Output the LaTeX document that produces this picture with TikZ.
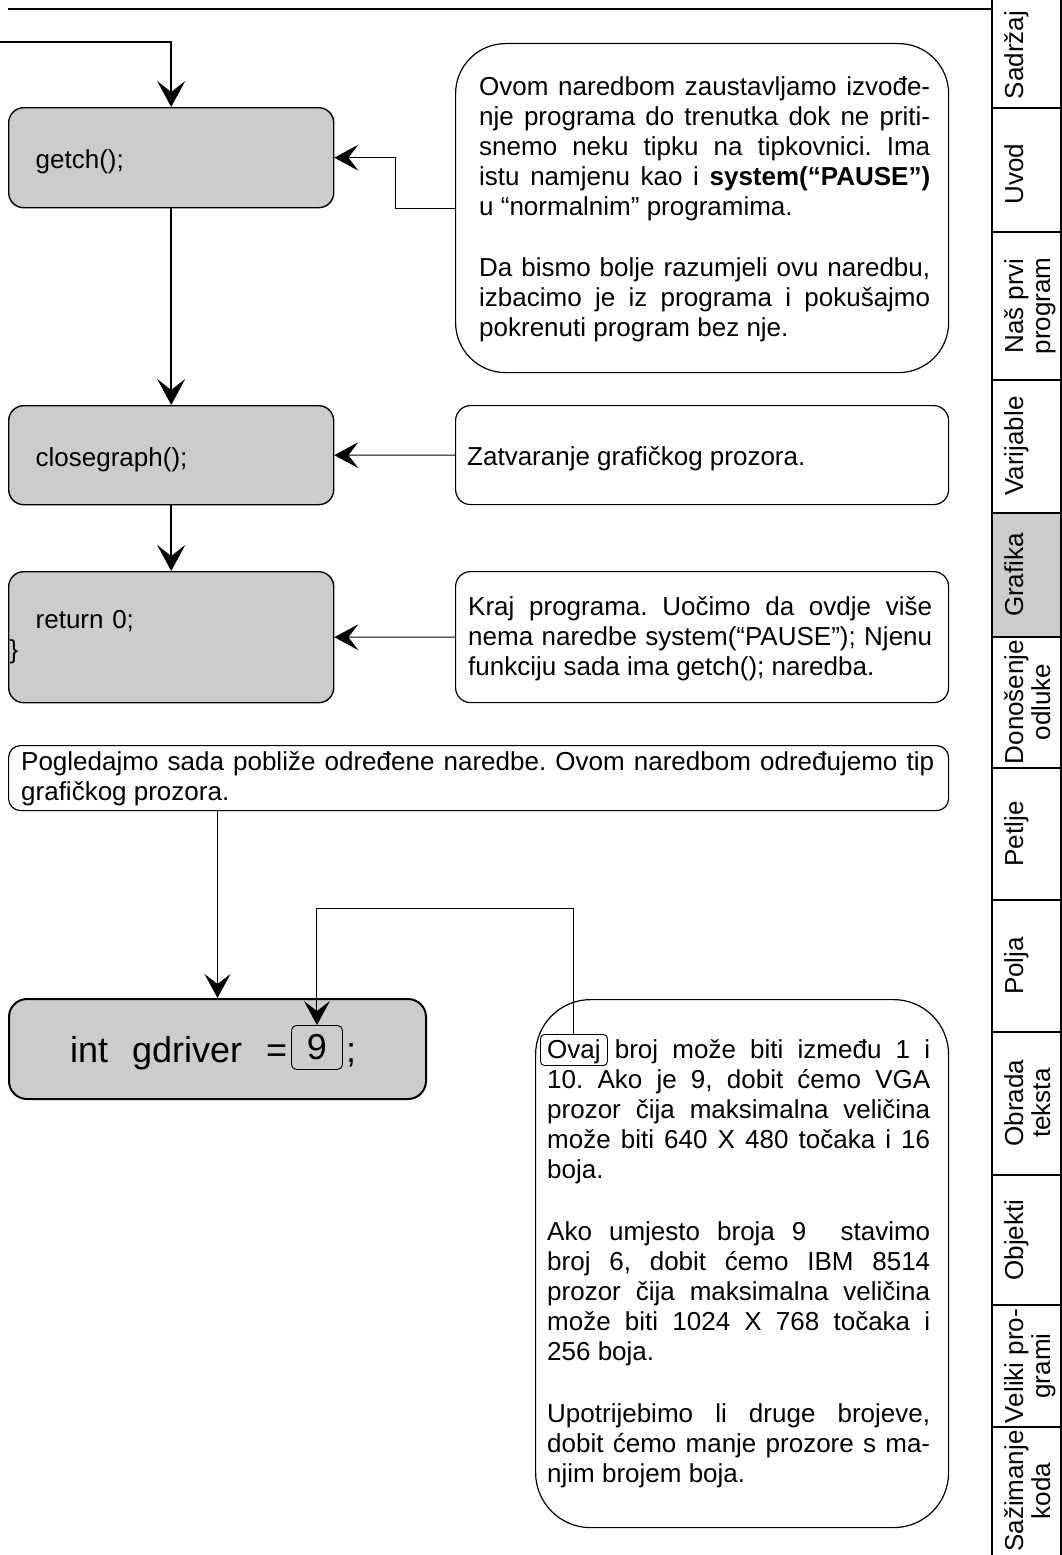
\documentclass[tikz,border=0pt]{standalone}
\usepackage{fontspec}
\setmainfont{Liberation Sans}
\usetikzlibrary{arrows.meta}
\definecolor{boxgray}{RGB}{204,204,204}
\definecolor{tabgray}{RGB}{204,204,204}
% a justified line of fixed width, and a line at its natural width
\newcommand\jline[2]{\hbox to #1{\strut\spaceskip=.278em plus 1fil\relax #2}}
\newcommand\pline[1]{\hbox{\strut #1}}
\begin{document}
\frenchspacing
\begin{tikzpicture}[x=1pt,y=-1pt,
  body/.style={font=\fontsize{26}{30}\selectfont},
  codebox/.style={draw=black, fill=boxgray, line width=1.4pt, rounded corners=15pt,
    anchor=north west, inner ysep=0pt, inner xsep=27pt, text width=271pt, align=left, body},
  oneline/.style={text height=22pt, text depth=0pt},
  bubble/.style={draw=black, line width=1.2pt, fill=white, anchor=north west, inner sep=0pt},
  textblock/.style={anchor=north west, inner sep=0pt, body},
  frame/.style={draw=black, line width=0.9pt, rounded corners=4pt, anchor=north west, inner sep=0pt},
  flow/.style={line width=2pt, -{Stealth[length=26pt,width=28pt,inset=11pt]}},
  link/.style={line width=1pt, -{Stealth[length=24pt,width=26pt,inset=10pt]}},
  tab/.style={rotate=90, anchor=north, inner sep=0pt, align=center, font=\fontsize{26}{27}\selectfont},
  rule/.style={line width=1.2pt}
]
\useasboundingbox (0,0) rectangle (1062,1555);

% header rule
\draw[rule] (8,9) -- (992,9);

% chapter tabs
\fill[tabgray] (992,513) rectangle (1061,637);
\draw[rule] (992,0) -- (992,1555) (1061,0) -- (1061,1555);
\foreach \yy in {108,232,380,513,637,768,900,1032,1175,1305,1427}
  \draw[rule] (992,\yy) -- (1061,\yy);
\node[tab] (tab1) at (1004,55) {Sadržaj};
\node[tab] (tab2) at (1004,174) {Uvod};
\node[tab] (tab3) at (1004,306) {Naš prvi\\program};
\node[tab] (tab4) at (1004,446) {Varijable};
\node[tab] (tab5) at (1004,575) {Grafika};
\node[tab] (tab6) at (1004,702) {Donošenje\\odluke};
\node[tab] (tab7) at (1004,834) {Petlje};
\node[tab] (tab8) at (1004,966) {Polja};
\node[tab] (tab9) at (1004,1103) {Obrada\\teksta};
\node[tab] (tab10) at (1004,1240) {Objekti};
\node[tab] (tab11) at (1004,1366) {Veliki pro-\\grami};
\node[tab] (tab12) at (1004,1491) {Sažimanje\\koda};

% program statements
\node[codebox, oneline, minimum height=100pt] (getch) at (8,107) {getch();};
\node[codebox, oneline, minimum height=99pt] (closegraph) at (8,405) {closegraph();};
\node[codebox, minimum height=131pt] (ret) at (8,571) {return 0;\\\hspace*{-26pt}\}};

% explanations
\node[bubble, rounded corners=50pt, minimum width=493pt, minimum height=329pt] (note1) at (455,43) {};
\node[textblock] (note1txt) at (479,74) {\vbox{%
  \jline{451pt}{Ovom naredbom zaustavljamo izvođe-}
  \jline{451pt}{nje programa do trenutka dok ne priti-}
  \jline{451pt}{snemo neku tipku na tipkovnici. Ima}
  \jline{451pt}{istu namjenu kao i \textbf{system(“PAUSE”)}}
  \pline{u “normalnim” programima.}
  \vskip31pt
  \jline{451pt}{Da bismo bolje razumjeli ovu naredbu,}
  \jline{451pt}{izbacimo je iz programa i pokušajmo}
  \pline{pokrenuti program bez nje.}}};

\node[bubble, rounded corners=15pt, minimum width=493pt, minimum height=99pt] (note2) at (455,405) {};
\node[textblock] (note2txt) at (467,444) {\vbox{\pline{Zatvaranje grafičkog prozora.}}};

\node[bubble, rounded corners=15pt, minimum width=493pt, minimum height=131pt] (note3) at (455,571) {};
\node[textblock] (note3txt) at (468,594) {\vbox{%
  \jline{464pt}{Kraj programa. Uočimo da ovdje više}
  \jline{464pt}{nema naredbe system(“PAUSE”); Njenu}
  \pline{funkciju sada ima getch(); naredba.}}};

% statement flow
\coordinate (entry) at (0,42);
\draw[flow] (entry) -| (getch.north);
\draw[flow] (getch.south) -- (closegraph.north);
\draw[flow] (closegraph.south) -- (ret.north);
\draw[link] (note1.west) -- ++(-60,0) |- (getch.east);
\draw[link] (note2.west) -- (closegraph.east);
\draw[link] (note3.west) -- (ret.east);

% closer look at the driver
\node[bubble, rounded corners=12pt, minimum width=940pt, minimum height=65pt] (pog) at (8,745) {};
\node[textblock] (pogtxt) at (21,749) {\vbox{%
  \jline{913pt}{Pogledajmo sada pobliže određene naredbe. Ovom naredbom određujemo tip}
  \pline{grafičkog prozora.}}};

\node[draw=black, fill=boxgray, line width=2pt, rounded corners=18pt, minimum width=417pt,
  minimum height=100pt, anchor=north west, inner sep=0pt] (gdbox) at (8,998) {};
\node[anchor=base west, inner sep=0pt, font=\fontsize{36}{40}\selectfont] (gdtext) at (70,1062)
  {int\hspace{24pt}gdriver\hspace{24pt}=};
\node[frame, rounded corners=5pt, minimum width=51pt, minimum height=44pt,
  font=\fontsize{36}{40}\selectfont] (nine) at (291,1025) {9};
\node[anchor=base west, inner sep=0pt, font=\fontsize{36}{40}\selectfont] (semi) at (346,1062) {;};

\node[bubble, rounded corners=55pt, minimum width=413pt, minimum height=528pt] (info) at (535,999) {};
\node[textblock] (infotxt) at (547,1037) {\vbox{%
  \jline{383pt}{Ovaj broj može biti između 1 i}
  \jline{383pt}{10. Ako je 9, dobit ćemo VGA}
  \jline{383pt}{prozor čija maksimalna veličina}
  \jline{383pt}{može biti 640 X 480 točaka i 16}
  \pline{boja.}
  \vskip32pt
  \jline{383pt}{Ako umjesto broja 9 \ stavimo}
  \jline{383pt}{broj 6, dobit ćemo IBM 8514}
  \jline{383pt}{prozor čija maksimalna veličina}
  \jline{383pt}{može biti 1024 X 768 točaka i}
  \pline{256 boja.}
  \vskip32pt
  \jline{383pt}{Upotrijebimo li druge brojeve,}
  \jline{383pt}{dobit ćemo manje prozore s ma-}
  \pline{njim brojem boja.}}};
\node[frame, minimum width=67pt, minimum height=31pt] (ovaj) at (540,1034) {};

\draw[link] (pog.south -| gdbox.north) -- (gdbox.north);
\draw[link] (ovaj.north) -- ++(0,-126) -| (nine.north);
\end{tikzpicture}
\end{document}
